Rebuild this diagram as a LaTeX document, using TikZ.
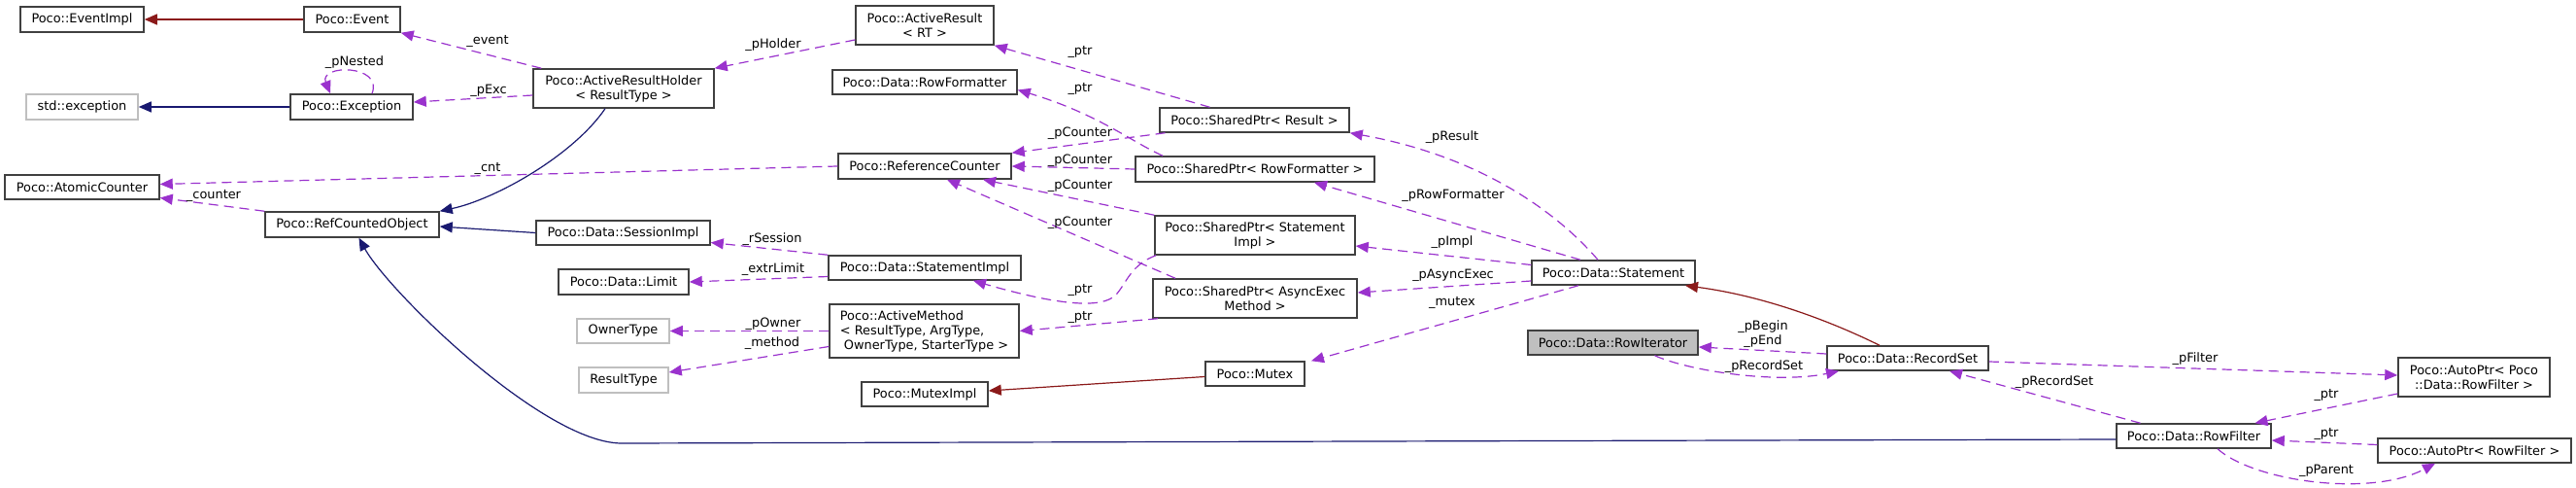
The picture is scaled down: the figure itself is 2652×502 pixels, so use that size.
\documentclass[tikz,border=0pt]{standalone}
\usepackage{fontspec}
\setmainfont{DejaVu Sans}
\usetikzlibrary{arrows.meta,calc}
\definecolor{depcol}{HTML}{9A32CD}
\definecolor{inhcol}{HTML}{191970}
\definecolor{privcol}{HTML}{8B1A1A}
\definecolor{bordcol}{HTML}{404040}
\definecolor{gbordcol}{HTML}{BFBFBF}
\definecolor{gfillcol}{HTML}{BFBFBF}
\newcommand{\dgfont}{\fontsize{12.9pt}{15pt}\selectfont}
\begin{document}
\begin{tikzpicture}[x=1pt,y=-1pt,
  box/.style={draw=bordcol, line width=1.5pt, inner sep=0pt, align=center, font=\dgfont, text=black},
  gbox/.style={box, draw=gbordcol},
  sz/.style 2 args={minimum width=#1pt, minimum height=#2pt},
  lbl/.style={inner sep=0pt, font=\dgfont, align=center, text=black},
  dep/.style={draw=depcol, line width=1.2pt, dash pattern=on 10pt off 6pt, -{Triangle[length=13pt,width=11pt,fill=depcol]}},
  inharr/.style={draw=inhcol, line width=1.2pt, -{Triangle[length=13pt,width=11pt,fill=inhcol]}},
  privarr/.style={draw=privcol, line width=1.2pt, -{Triangle[length=13pt,width=11pt,fill=privcol]}}
]
\useasboundingbox (0,0) rectangle (2652,502);

% nodes
\node[box,sz={127}{26}] (EventImpl) at (84.5,20) {Poco::EventImpl};
\node[box,sz={99}{26}] (Event) at (362.5,20) {Poco::Event};
\node[gbox,sz={115}{26}] (StdExc) at (84.5,110) {std::exception};
\node[box,sz={126}{26}] (Exception) at (362,110) {Poco::Exception};
\node[box,sz={159}{25}] (AtomicCounter) at (84.5,192.5) {Poco::AtomicCounter};
\node[box,sz={179}{26}] (RCO) at (362.5,231) {Poco::RefCountedObject};
\node[box,sz={186}{40}] (ARH) at (642,91) {Poco::ActiveResultHolder\\< ResultType >};
\node[box,sz={179}{25}] (SessionImpl) at (641.5,239.5) {Poco::Data::SessionImpl};
\node[box,sz={134}{26}] (Limit) at (642,290) {Poco::Data::Limit};
\node[gbox,sz={95}{25}] (OwnerType) at (641.5,340.5) {OwnerType};
\node[gbox,sz={92}{26}] (ResultType) at (642,391) {ResultType};
\node[box,sz={142}{40}] (ActiveResult) at (952,26) {Poco::ActiveResult\\< RT >};
\node[box,sz={190}{25}] (RowFormatter) at (952,84.5) {Poco::Data::RowFormatter};
\node[box,sz={178}{26}] (RC) at (952,171) {Poco::ReferenceCounter};
\node[box,sz={198}{25}] (StatementImpl) at (952,275.5) {Poco::Data::StatementImpl};
\node[box,sz={195}{55},align=left] (AM) at (951.5,340.5) {Poco::ActiveMethod\\< ResultType, ArgType,\\\hspace*{4pt}OwnerType, StarterType >};
\node[box,sz={130}{25}] (MutexImpl) at (952,405.5) {Poco::MutexImpl};
\node[box,sz={195}{25}] (SPResult) at (1291.5,123.5) {Poco::SharedPtr< Result >};
\node[box,sz={246}{26}] (SPRowFormatter) at (1292,174) {Poco::SharedPtr< RowFormatter >};
\node[box,sz={206}{40}] (SPStatementImpl) at (1292,242) {Poco::SharedPtr< Statement\\Impl >};
\node[box,sz={210}{40}] (SPAsync) at (1292,307) {Poco::SharedPtr< AsyncExec\\Method >};
\node[box,sz={102}{25}] (Mutex) at (1292,384.5) {Poco::Mutex};
\node[box,sz={168}{25}] (Statement) at (1661,280.5) {Poco::Data::Statement};
\node[box,sz={175}{25},fill=gfillcol] (RowIterator) at (1660.5,352.5) {Poco::Data::RowIterator};
\node[box,sz={166}{25}] (RecordSet) at (1964,368.5) {Poco::Data::RecordSet};
\node[box,sz={159}{25}] (RowFilter) at (2258.5,448.5) {Poco::Data::RowFilter};
\node[box,sz={156}{40}] (AutoPtrPoco) at (2547,388) {Poco::AutoPtr< Poco\\::Data::RowFilter >};
\node[box,sz={199}{25}] (AutoPtrRF) at (2547.5,463.5) {Poco::AutoPtr< RowFilter >};

% edges
\draw[privarr] (Event.west) -- (EventImpl.east);
\draw[inharr] (Exception.west) -- (StdExc.east);
\draw[dep] ([xshift=21pt]Exception.north) .. controls (395,66) and (328,66) .. ([xshift=-22pt]Exception.north);
\node[lbl] (lNested) at (365,64) {\_pNested};

\draw[dep] ([xshift=9pt]ARH.north west) -- (Event.south east);
\node[lbl] (lEvent) at (502,42) {\_event};
\draw[dep] ([yshift=-7pt]ARH.west) -- ([yshift=5pt]Exception.east);
\node[lbl] (lExc) at (503,93) {\_pExc};
\draw[dep] ([yshift=-15pt]ActiveResult.west) -- (ARH.north east);
\node[lbl] (lHolder) at (796,46) {\_pHolder};
\draw[inharr] ([xshift=-19pt]ARH.south) .. controls (590,160) and (510,205) .. (RCO.north east);
\draw[inharr] (SessionImpl.west) -- ([yshift=-2pt]RCO.east);
\draw[dep] (RC.west) -- ([yshift=3pt]AtomicCounter.east);
\node[lbl] (lCnt) at (502,173) {\_cnt};
\draw[dep] (RCO.north west) -- ([yshift=-11pt]AtomicCounter.east);
\node[lbl] (lCounter) at (220,201) {\_counter};
\draw[inharr] ([yshift=-3.5pt]RowFilter.west) -- (640,456) .. controls (560,456) and (400,300) .. ([xshift=7pt]RCO.south);

\draw[dep] (StatementImpl.north west) -- ([yshift=-10pt]SessionImpl.east);
\node[lbl] (lSession) at (795,246) {\_rSession};
\draw[dep] ([yshift=-9pt]StatementImpl.west) -- (Limit.east);
\node[lbl] (lLimit) at (796,277) {\_extrLimit};
\draw[dep] (AM.west) -- (OwnerType.east);
\node[lbl] (lOwner) at (796,333) {\_pOwner};
\draw[dep] ([yshift=-16pt]AM.west) -- ([yshift=8pt]ResultType.east);
\node[lbl] (lMethod) at (795,353) {\_method};

\draw[dep] ([xshift=-46pt]SPResult.north) -- (ActiveResult.south east);
\node[lbl] (lPtrA) at (1112,53) {\_ptr};
\draw[dep] ([xshift=-95pt]SPRowFormatter.north) .. controls (1165,146) and (1130,117) .. ([yshift=-8pt]RowFormatter.east);
\node[lbl] (lPtrB) at (1112,91) {\_ptr};
\draw[dep] ([xshift=-92pt]SPResult.south) -- (RC.north east);
\node[lbl] (lPC1) at (1112,137) {\_pCounter};
\draw[dep] (SPRowFormatter.west) -- (RC.east);
\node[lbl] (lPC2) at (1112,165) {\_pCounter};
\draw[dep] (SPStatementImpl.north west) -- ([xshift=60pt]RC.south);
\node[lbl] (lPC3) at (1112,191) {\_pCounter};
\draw[dep] ([xshift=-82pt]SPAsync.north) -- ([xshift=23pt]RC.south);
\node[lbl] (lPC4) at (1112,229) {\_pCounter};
\draw[dep] ([xshift=-102pt]SPStatementImpl.south) .. controls (1165,272) and (1160,290) .. (1150,302) .. controls (1140,314) and (1110,320) .. ([xshift=50pt]StatementImpl.south);
\node[lbl] (lPtrC) at (1112,298) {\_ptr};
\draw[dep] ([xshift=-100pt]SPAsync.south) -- (AM.east);
\node[lbl] (lPtrD) at (1112,326) {\_ptr};
\draw[privarr] ([yshift=-3pt]Mutex.west) -- ([yshift=3.5pt]MutexImpl.east);

\draw[dep] ([xshift=-16pt]Statement.north) .. controls (1600,215) and (1520,160) .. (SPResult.south east);
\node[lbl] (lResult) at (1495,141) {\_pResult};
\draw[dep] ([xshift=-34pt]Statement.north) -- ([xshift=61pt]SPRowFormatter.south);
\node[lbl] (lRowF) at (1496,201) {\_pRowFormatter};
\draw[dep] ([yshift=8pt]Statement.west) -- ([yshift=-11pt]SPStatementImpl.east);
\node[lbl] (lImpl) at (1495,249) {\_pImpl};
\draw[dep] ([yshift=-8.5pt]Statement.west) -- ([yshift=6pt]SPAsync.east);
\node[lbl] (lAsync) at (1496,283) {\_pAsyncExec};
\draw[dep] ([xshift=-36pt]Statement.south) -- ([xshift=58pt]Mutex.north);
\node[lbl] (lMutex) at (1495,311) {\_mutex};

\draw[privarr] ([xshift=-29pt]RecordSet.north) .. controls (1890,333) and (1820,305) .. ([xshift=74pt]Statement.south);
\draw[dep] ([yshift=4.5pt]RecordSet.west) -- ([yshift=-4.5pt]RowIterator.east);
\node[lbl] (lBegin) at (1815,344) {\_pBegin\\\_pEnd};
\draw[dep] ([xshift=43pt]RowIterator.south) .. controls (1740,382) and (1830,395) .. ([xshift=-71pt]RecordSet.south);
\node[lbl] (lRS1) at (1816,377) {\_pRecordSet};
\draw[dep] ([yshift=-3.5pt]RecordSet.east) -- ([yshift=2pt]AutoPtrPoco.west);
\node[lbl] (lFilter) at (2260,369) {\_pFilter};
\draw[dep] ([xshift=-55pt]RowFilter.north) -- ([xshift=43pt]RecordSet.south);
\node[lbl] (lRS2) at (2115,393) {\_pRecordSet};
\draw[dep] ([yshift=-17pt]AutoPtrPoco.west) -- ([xshift=63pt]RowFilter.north);
\node[lbl] (lPtrE) at (2395,406) {\_ptr};
\draw[dep] ([yshift=6pt]AutoPtrRF.west) -- ([yshift=-4.5pt]RowFilter.east);
\node[lbl] (lPtrF) at (2395,446) {\_ptr};
\draw[dep] ([xshift=24.5pt]RowFilter.south) .. controls (2320,495) and (2440,512) .. ([xshift=-40.5pt]AutoPtrRF.south);
\node[lbl] (lParent) at (2395,484) {\_pParent};
\end{tikzpicture}
\end{document}
